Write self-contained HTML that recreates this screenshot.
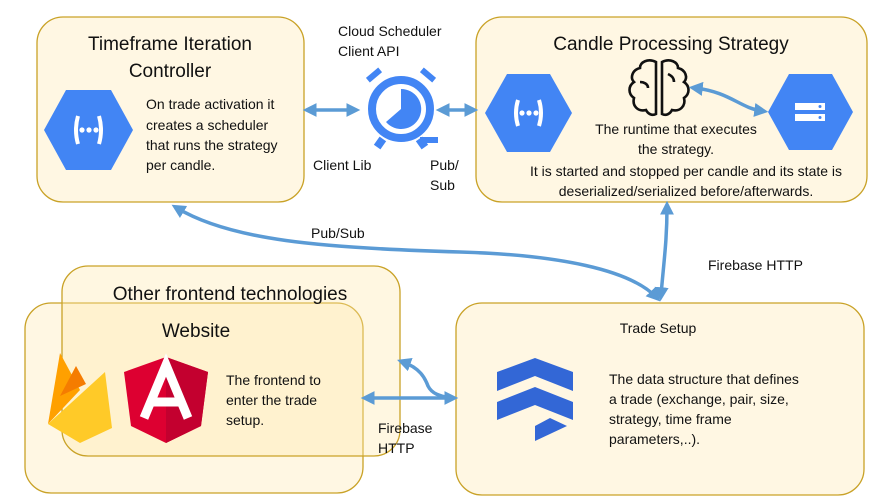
<!DOCTYPE html>
<html><head><meta charset="utf-8"><style>
html,body{margin:0;padding:0;background:#fff;}
svg{display:block;font-family:"Liberation Sans",sans-serif;}
</style></head><body>
<svg width="896" height="504" viewBox="0 0 896 504" xmlns="http://www.w3.org/2000/svg">
<defs>
<marker id="ah" markerWidth="4" markerHeight="4" refX="2.2" refY="2" orient="auto-start-reverse" markerUnits="strokeWidth"><path d="M0,0 L4,2 L0,4 Z" fill="#5b9bd5"/></marker>
</defs>
<!-- boxes -->
<rect x="37" y="17" width="267" height="185" rx="26" fill="#fff7e3" stroke="#c9a227" stroke-width="1.3"/>
<rect x="476" y="17" width="391" height="185" rx="26" fill="#fff7e3" stroke="#c9a227" stroke-width="1.3"/>
<rect x="456" y="303" width="408" height="192" rx="26" fill="#fff7e3" stroke="#c9a227" stroke-width="1.3"/>
<rect x="25" y="303" width="338" height="190" rx="26" fill="#fff7e3" stroke="#c9a227" stroke-width="1.3"/>
<rect x="62" y="266" width="338" height="190" rx="26" fill="#ffe9a8" fill-opacity="0.35" stroke="#c9a227" stroke-width="1.3"/>

<!-- titles -->
<g fill="#111" text-anchor="middle">
<text x="170" y="50" font-size="19">Timeframe Iteration</text>
<text x="170" y="77" font-size="19">Controller</text>
<text x="671" y="50" font-size="19">Candle Processing Strategy</text>
<text x="230" y="300" font-size="19">Other frontend technologies</text>
<text x="196" y="337" font-size="19">Website</text>
<text x="658" y="333" font-size="14">Trade Setup</text>
</g>
<g fill="#111" font-size="14">
<text x="146" y="109">On trade activation it</text>
<text x="146" y="130">creates a scheduler</text>
<text x="146" y="150">that runs the strategy</text>
<text x="146" y="170">per candle.</text>
<text x="338" y="36">Cloud Scheduler</text>
<text x="338" y="56">Client API</text>
<text x="313" y="170">Client Lib</text>
<text x="430" y="170">Pub/</text>
<text x="430" y="190">Sub</text>
<text x="311" y="238">Pub/Sub</text>
<text x="708" y="270">Firebase HTTP</text>
<text x="226" y="385">The frontend to</text>
<text x="226" y="405">enter the trade</text>
<text x="226" y="425">setup.</text>
<text x="378" y="433">Firebase</text>
<text x="378" y="453">HTTP</text>
<text x="609" y="384">The data structure that defines</text>
<text x="609" y="404">a trade (exchange, pair, size,</text>
<text x="609" y="424">strategy, time frame</text>
<text x="609" y="444">parameters,..).</text>
</g>
<g fill="#111" font-size="14" text-anchor="middle">
<text x="676" y="134">The runtime that executes</text>
<text x="676" y="154">the strategy.</text>
<text x="686" y="176">It is started and stopped per candle and its state is</text>
<text x="686" y="196">deserialized/serialized before/afterwards.</text>
</g>

<!-- function hexagons -->
<g>
<polygon points="44,130 66,90 111,90 133,130 111,170 66,170" fill="#4285f4"/>
<path d="M78,116 q-4,14 0,28 M99,116 q4,14 0,28" stroke="#fff" stroke-width="4" fill="none"/>
<circle cx="82" cy="130" r="2.6" fill="#fff"/><circle cx="89" cy="130" r="2.6" fill="#fff"/><circle cx="96" cy="130" r="2.6" fill="#fff"/>
</g>
<g>
<polygon points="485,113 507,74 550,74 572,113 550,152 507,152" fill="#4285f4"/>
<path d="M518,100 q-4,13 0,26 M539,100 q4,13 0,26" stroke="#fff" stroke-width="4" fill="none"/>
<circle cx="522" cy="113" r="2.6" fill="#fff"/><circle cx="529" cy="113" r="2.6" fill="#fff"/><circle cx="536" cy="113" r="2.6" fill="#fff"/>
</g>
<!-- datastore hex -->
<g>
<polygon points="768,112 789,74 832,74 853,112 832,150 789,150" fill="#4285f4"/>
<rect x="795" y="103" width="30" height="7" fill="#fff"/><rect x="795" y="114" width="30" height="7" fill="#fff"/>
<circle cx="820" cy="106.5" r="1.5" fill="#4285f4"/><circle cx="820" cy="117.5" r="1.5" fill="#4285f4"/>
</g>
<!-- brain -->
<g fill="none" stroke="#111" stroke-width="2.6">
<path d="M656,62 c-8,-4 -16,0 -16,6 c-8,2 -10,10 -6,14 c-6,4 -6,12 0,16 c-2,8 4,14 12,12 c2,4 6,6 10,4 Z"/>
<path d="M662,62 c8,-4 16,0 16,6 c8,2 10,10 6,14 c6,4 6,12 0,16 c2,8 -4,14 -12,12 c-2,4 -6,6 -10,4 Z"/>
<path d="M640,82 c4,0 8,2 8,6 M668,74 c4,2 6,4 6,8"/>
</g>
<!-- scheduler clock -->
<g>
<circle cx="401" cy="109" r="29" fill="none" stroke="#4285f4" stroke-width="8"/>
<path d="M401,109 L401,89 A20,20 0 1 1 386,122 Z" fill="#4285f4"/>
<rect x="366" y="72" width="16" height="6" fill="#4285f4" transform="rotate(-40 374 75)"/>
<rect x="420" y="72" width="16" height="6" fill="#4285f4" transform="rotate(40 428 75)"/>
<rect x="376" y="138" width="8" height="10" fill="#4285f4" transform="rotate(35 380 143)"/>
<rect x="418" y="138" width="8" height="10" fill="#4285f4" transform="rotate(-35 422 143)"/>
<rect x="420" y="137" width="18" height="6" fill="#4285f4"/>
</g>
<!-- firestore -->
<g fill="#3367d6">
<polygon points="497,372 535,358 573,372 573,391 535,376 497,391"/>
<polygon points="497,402 535,387 573,402 573,420 535,405 497,420"/>
<polygon points="535,426 550,418 567,426 535,441"/>
</g>
<!-- firebase -->
<g>
<polygon points="48,424 60,353 80,390" fill="#ffa000"/>
<polygon points="60,396 76,366 86,384" fill="#f57c00"/>
<polygon points="48,424 105,372 112,428 80,443" fill="#ffca28"/>
</g>
<!-- angular -->
<g>
<polygon points="166,357 124,372 131,426 166,443 201,426 208,372" fill="#dd0031"/>
<polygon points="166,357 208,372 201,426 166,443" fill="#c3002f"/>
<path d="M144,418 L166,365 L188,418 M152,402 L180,402" stroke="#fff" stroke-width="9" fill="none"/>
</g>

<!-- connectors -->
<g stroke="#5b9bd5" stroke-width="3.5" fill="none">
<path d="M309,110 L354,110" marker-start="url(#ah)" marker-end="url(#ah)"/>
<path d="M442,110 L472,110" marker-start="url(#ah)" marker-end="url(#ah)"/>
<path d="M177,208 C230,240 320,248 460,252 C560,255 630,270 656,297" marker-start="url(#ah)" marker-end="url(#ah)"/>
<path d="M667,207 C667,240 664,260 661,295" marker-start="url(#ah)" marker-end="url(#ah)"/>
<path d="M367,398 L452,398" marker-start="url(#ah)" marker-end="url(#ah)"/>
<path d="M403,362 C420,368 425,378 428,386 C432,394 440,396 450,398" marker-start="url(#ah)"/>
<path d="M695,88 C730,92 740,108 762,111" marker-start="url(#ah)" marker-end="url(#ah)"/>
</g>
</svg>
</body></html>
